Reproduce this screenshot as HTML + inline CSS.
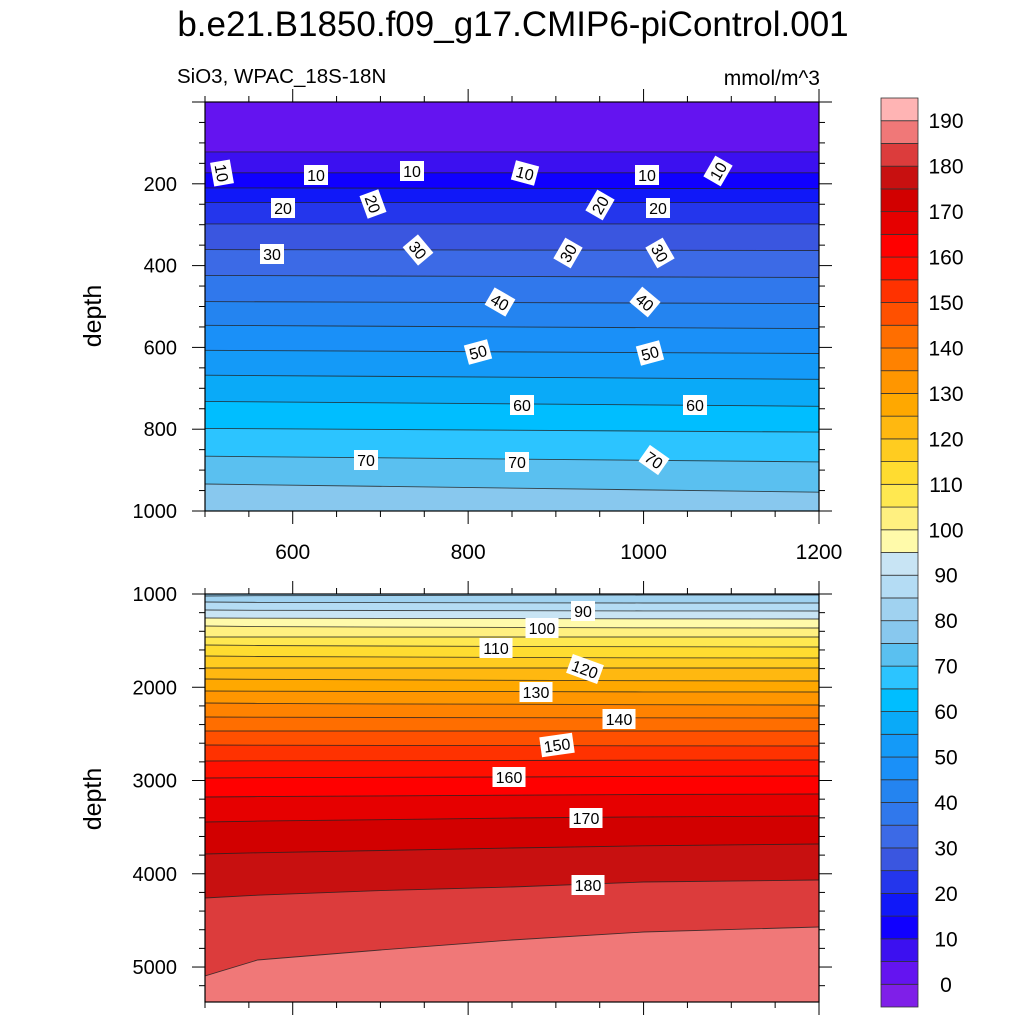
<!DOCTYPE html>
<html><head><meta charset="utf-8"><style>
html,body{margin:0;padding:0;background:#fff;}
svg{display:block;font-family:"Liberation Sans",sans-serif;}
</style></head><body>
<svg id="chart" width="1024" height="1024" viewBox="0 0 1024 1024" xmlns="http://www.w3.org/2000/svg"></svg>
<script>
// ---- data ----
const colors = ["#7f1fe8","#6414f0","#3c10f0","#1000ff","#1018f8","#2436ec","#3a56e0","#3c6ae6","#3078ec","#2484f0","#1a90f8","#149af8","#0aaaf8","#00beff","#2cc4ff","#5ac0f0","#88c8ee","#a0d2f0","#b4dcf4","#c8e4f4","#fffaaa","#fff080","#ffe850","#ffdc30","#ffcc20","#ffb810","#ffa800","#ff9600","#ff8200","#ff6e00","#ff5000","#ff3200","#ff1000","#ff0000","#e60000","#d20000","#c81010","#dc3c3c","#f07878","#ffb4b4"];
const cbLabels = [0,10,20,30,40,50,60,70,80,90,100,110,120,130,140,150,160,170,180,190];
const topXs = [500,1200];
const topLevels = [5,10,15,20,25,30,35,40,45,50,55,60,65,70,75];
const topDepths = [[122,122],[173,173],[210,212],[246,246],[298,298],[361,363],[424,429],[488,493],[546,554],[607,615],[668,678],[732,744],[798,807],[866,880],[934,954]];
const botXs = [500,560,700,850,1000,1200];
const botLevels = [80,85,90,95,100,105,110,115,120,125,130,135,140,145,150,155,160,165,170,175,180,185];
const botDepths = [
[1021,1018,1016,1014,1012,1011],[1086,1090,1092,1094,1096,1097],[1172,1175,1177,1179,1181,1182],
[1257,1260,1262,1264,1266,1268],[1343,1350,1355,1358,1362,1365],[1461,1461,1461,1461,1461,1461],
[1547,1552,1558,1562,1565,1568],[1665,1670,1675,1680,1684,1686],[1794,1794,1794,1794,1794,1794],
[1911,1915,1920,1925,1930,1933],[2040,2042,2045,2047,2050,2051],[2169,2173,2178,2182,2187,2190],
[2319,2321,2324,2326,2328,2330],[2469,2469,2469,2469,2469,2469],[2619,2621,2624,2626,2628,2630],
[2791,2789,2787,2785,2782,2780],[2973,2970,2966,2962,2956,2952],[3177,3172,3165,3158,3150,3145],
[3445,3435,3420,3402,3390,3380],[3788,3775,3750,3724,3700,3681],[4260,4230,4180,4142,4088,4067],
[5096,4925,4817,4710,4624,4571]];
const topYTicks = [200,400,600,800,1000];
const botYTicks = [1000,2000,3000,4000,5000];
const xTicks = [600,800,1000,1200];
const topLabels = [[222,173,"10",80],[316,175,"10",0],[412,171,"10",0],[525,173,"10",15],[647,175,"10",0],[718,171,"10",-60],
[283,208,"20",0],[373,204,"20",70],[600,205,"20",-60],[658,208,"20",0],[272,254,"30",0],[418,250,"30",50],[568,253,"30",-60],[660,253,"30",60],
[500,302,"40",30],[645,302,"40",40],[478,352,"50",-15],[650,353,"50",-15],[522,405,"60",0],[695,405,"60",0],[366,460,"70",0],[517,462,"70",0],[654,460,"70",35],
[583,611,"90",0],[542,628,"100",0],[496,648,"110",0],[585,669,"120",20],[536,692,"130",0],[619,719,"140",0],[557,745,"150",-8],[509,777,"160",0],[586,818,"170",0],[588,885,"180",0]];

const NS="http://www.w3.org/2000/svg";
const svg=document.getElementById('chart');
function mk(tag,attrs,parent){const e=document.createElementNS(NS,tag);for(const k in attrs)e.setAttribute(k,attrs[k]);(parent||svg).appendChild(e);return e;}
const X0=205,X1=819;
function xs(v){return X0+(v-500)/700*(X1-X0);}
const topP={y0:102,y1:511,d0:0,d1:1000};
const botP={y0:594,y1:1002,d0:1000,d1:5375};
function ys(P,d){return P.y0+(d-P.d0)/(P.d1-P.d0)*(P.y1-P.y0);}
function colIdx(level){return level/5+1;}

function drawPanel(P,name,cols,levels,depths,minorStep){
  const g=mk('g',{});
  
  
  const clip=mk('clipPath',{id:'clip-'+name},g);
  mk('rect',{x:X0,y:P.y0,width:X1-X0,height:P.y1-P.y0},clip);
  const pg=mk('g',{'clip-path':'url(#clip-'+name+')'},g);
  const bg=mk('rect',{x:X0,y:P.y0,width:X1-X0,height:P.y1-P.y0,fill:colors[colIdx(levels[0])-1]},pg);
  
  
  levels.forEach((lv,i)=>{
    const pts=cols.map((c,j)=>xs(c).toFixed(1)+','+ys(P,depths[i][j]).toFixed(1));
    const poly=mk('polygon',{points:pts.join(' ')+' '+X1+','+(P.y1+5)+' '+X0+','+(P.y1+5),fill:colors[colIdx(lv)]},pg);
    
    
  });
  levels.forEach((lv,i)=>{
    const pts=cols.map((c,j)=>xs(c).toFixed(1)+','+ys(P,depths[i][j]).toFixed(1));
    const pl=mk('polyline',{points:pts.join(' '),fill:'none',stroke:'#222',"stroke-width":0.9,"stroke-opacity":0.8},pg);
    
    
  });
  mk('rect',{x:X0,y:P.y0,width:X1-X0,height:P.y1-P.y0,fill:'none',stroke:'#000','stroke-width':1.2},g);
  for(let v=500;v<=1200;v+=50){
    const major=(v%200===0);const L=major?13:6;const x=xs(v);
    mk('line',{x1:x,x2:x,y1:P.y0,y2:P.y0-L,stroke:'#000','stroke-width':1},g);
    mk('line',{x1:x,x2:x,y1:P.y1,y2:P.y1+L,stroke:'#000','stroke-width':1},g);
  }
  for(let d=P.d0;d<=P.d1;d+=minorStep){
    const major=(P===topP)?(d%200===0):(d%1000===0);const L=major?13:6;const y=ys(P,d);
    if(y<P.y0-0.5||y>P.y1+0.5)continue;
    mk('line',{x1:X0,x2:X0-L,y1:y,y2:y,stroke:'#000','stroke-width':1},g);
    mk('line',{x1:X1,x2:X1+L,y1:y,y2:y,stroke:'#000','stroke-width':1},g);
  }
  return g;
}
const gt=drawPanel(topP,'top-panel',topXs,topLevels,topDepths,50);
const gb=drawPanel(botP,'bottom-panel',botXs,botLevels,botDepths,200);
topYTicks.forEach(d=>{const t=mk('text',{x:177,y:ys(topP,d)+7,'text-anchor':'end','font-size':20},gt);t.textContent=d;
 });
botYTicks.forEach(d=>{const t=mk('text',{x:177,y:ys(botP,d)+7,'text-anchor':'end','font-size':20},gb);t.textContent=d;
 });
xTicks.forEach(v=>{const t=mk('text',{x:xs(v),y:559,'text-anchor':'middle','font-size':21},gt);t.textContent=v;
 });
topLabels.forEach(l=>{
  const g=mk('g',{transform:`translate(${l[0]},${l[1]}) rotate(${l[3]})`});
  
  
  const w=l[2].length*9+6;
  mk('rect',{x:-w/2,y:-10,width:w,height:20,fill:'#fff'},g);
  const t=mk('text',{x:0,y:6,'text-anchor':'middle','font-size':16},g);t.textContent=l[2];
});
const CB={x:881,w:37,y0:98,y1:1007};
const cbg=mk('g',{});


const bh=(CB.y1-CB.y0)/colors.length;
colors.forEach((c,i)=>{const y=CB.y1-(i+1)*bh;
 const r=mk('rect',{x:CB.x,y:y,width:CB.w,height:bh,fill:c,stroke:'#333','stroke-width':0.8},cbg);
 });
cbLabels.forEach(v=>{const y=CB.y1-(v/5+1)*bh;
 const t=mk('text',{x:946,y:y+7.5,'font-size':21,'text-anchor':'middle'},cbg);t.textContent=v;
 });
function txt(x,y,s,size,name,anchor,rot){const t=mk('text',{x:x,y:y,'font-size':size,'text-anchor':anchor||'start'});
 if(rot)t.setAttribute('transform',`rotate(${rot} ${x} ${y})`);t.textContent=s;
 }
txt(513,36,"b.e21.B1850.f09_g17.CMIP6-piControl.001",35,'chart-title','middle');
txt(177,83,"SiO3, WPAC_18S-18N",20.5,'subtitle');
txt(820,85,"mmol/m^3",21,'units-label','end');
txt(101,316,"depth",25,'y-axis-title-top','middle',-90);
txt(101,799,"depth",25,'y-axis-title-bottom','middle',-90);
</script>
</body></html>
